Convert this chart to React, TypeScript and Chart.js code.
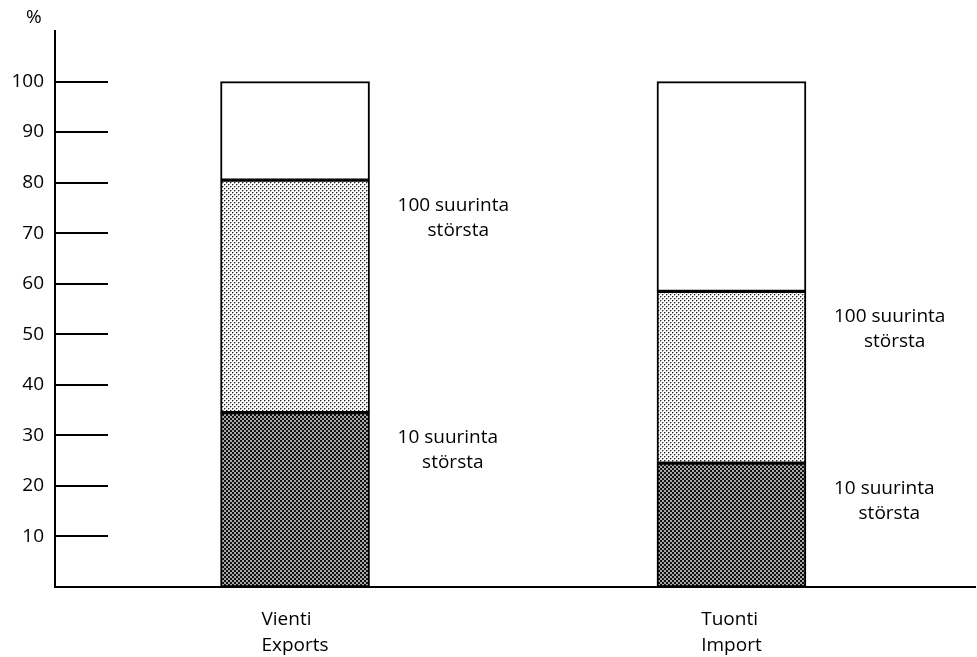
import { useEffect, useRef } from 'react';
import { Chart, registerables } from 'chart.js';

Chart.register(...registerables);

// ---- data ----
const categoriesFi = ['Vienti', 'Tuonti'];
const categoriesEn = ['Exports', 'Import'];
const top10Share = [34.5, 24.5];      // 10 largest companies
const next90Share = [46, 34];         // companies 11-100
const restShare = [19.5, 41.5];       // all others
const yTickValues = [10, 20, 30, 40, 50, 60, 70, 80, 90, 100];
const top10Label = ['10 suurinta', 'största'];
const top100Label = ['100 suurinta', 'största'];
const unitLabel = '%';

const FONT = '"Open Sans", "Noto Sans", sans-serif';
const FONT_SIZE = 19;
const FONT_WEIGHT = 500;

function makePattern(kind: 'light' | 'dark'): CanvasPattern | string {
  const c = document.createElement('canvas');
  c.width = 4;
  c.height = 4;
  const g = c.getContext('2d');
  if (!g) return '#aaa';
  if (kind === 'dark') {
    g.fillStyle = '#a8a8a8';
    g.fillRect(0, 0, 4, 4);
    g.fillStyle = '#111111';
    g.fillRect(0, 0, 2, 2);
    g.fillRect(2, 2, 2, 2);
  } else {
    g.fillStyle = '#ffffff';
    g.fillRect(0, 0, 4, 4);
    g.fillStyle = '#aaaaaa';
    g.fillRect(1, 0, 1, 1);
    g.fillRect(0, 1, 1, 1);
    g.fillRect(3, 2, 1, 1);
    g.fillRect(2, 3, 1, 1);
    g.fillStyle = '#222222';
    g.fillRect(0, 0, 1, 1);
    g.fillRect(2, 2, 1, 1);
  }
  return g.createPattern(c, 'repeat') || '#aaa';
}

export default function App() {
  const ref = useRef<HTMLCanvasElement | null>(null);

  useEffect(() => {
    if (!ref.current) return;
    const darkPat = makePattern('dark');
    const lightPat = makePattern('light');

    const decorations = {
      id: 'decorations',
      afterDatasetsDraw(chart: any) {
        const ctx = chart.ctx as CanvasRenderingContext2D;
        const y = chart.scales.y;
        const area = chart.chartArea;
        ctx.save();
        // long tick marks inside the plot
        ctx.strokeStyle = '#000';
        ctx.lineWidth = 2;
        yTickValues.forEach((v) => {
          const py = Math.round(y.getPixelForValue(v));
          ctx.beginPath();
          ctx.moveTo(area.left, py);
          ctx.lineTo(area.left + 53, py);
          ctx.stroke();
        });
        // unit label
        ctx.fillStyle = '#000';
        ctx.font = `${FONT_WEIGHT} ${FONT_SIZE}px ${FONT}`;
        ctx.textAlign = 'left';
        ctx.textBaseline = 'middle';
        ctx.fillText(unitLabel, 26, 18);

        // segment labels
        const meta0 = chart.getDatasetMeta(0);
        categoriesFi.forEach((_, i) => {
          const el: any = meta0.data[i];
          const xLeft = el.x + el.width / 2 + 28;
          const put = (lines: string[], topValue: number) => {
            const w0 = ctx.measureText(lines[0]).width;
            const cx = xLeft + w0 / 2 + 5;
            const py = y.getPixelForValue(topValue - 5);
            ctx.textAlign = 'left';
            ctx.fillText(lines[0], xLeft, py);
            ctx.textAlign = 'center';
            ctx.fillText(lines[1], cx, py + 25);
          };
          put(top100Label, top10Share[i] + next90Share[i]);
          put(top10Label, top10Share[i]);

          // category labels under the axis
          const wa = ctx.measureText(categoriesFi[i]).width;
          const wb = ctx.measureText(categoriesEn[i]).width;
          const lx = el.x - Math.max(wa, wb) / 2;
          ctx.textAlign = 'left';
          ctx.fillText(categoriesFi[i], lx, area.bottom + 33);
          ctx.fillText(categoriesEn[i], lx, area.bottom + 59);
        });
        ctx.restore();
      },
    };

    const toPoints = (arr: number[]) => arr.map((v, i) => ({ x: i, y: v }));
    const common = {
      borderColor: '#000',
      borderWidth: 2,
      borderSkipped: false as const,
      barThickness: 149,
    };

    const chart = new Chart(ref.current, {
      type: 'bar',
      data: {
        datasets: [
          { label: top10Label[0], data: toPoints(top10Share), backgroundColor: darkPat as any, ...common },
          { label: top100Label[0], data: toPoints(next90Share), backgroundColor: lightPat as any, ...common },
          { label: 'muut', data: toPoints(restShare), backgroundColor: '#ffffff', ...common },
        ],
      },
      options: {
        animation: false,
        responsive: false,
        layout: { padding: { top: 31, bottom: 70, left: 0, right: 2 } },
        plugins: { legend: { display: false }, tooltip: { enabled: false } },
        scales: {
          x: {
            type: 'linear',
            stacked: true,
            offset: false,
            min: -0.55,
            max: 1.558,
            ticks: { display: false },
            grid: { display: false },
            border: { display: true, color: '#000', width: 2 },
            afterFit: (s: any) => { s.height = 0; },
          },
          y: {
            stacked: true,
            min: 0,
            max: 110,
            ticks: {
              stepSize: 10,
              padding: 3,
              color: '#000',
              font: { family: FONT, size: FONT_SIZE, weight: FONT_WEIGHT },
              callback: (v: any) => (yTickValues.includes(Number(v)) ? String(v) : ''),
            },
            grid: { display: false },
            border: { display: true, color: '#000', width: 2 },
            afterFit: (s: any) => { s.width = 55; },
          },
        },
      },
      plugins: [decorations],
    });
    return () => chart.destroy();
  }, []);

  return (
    <div style={{ position: 'absolute', left: 0, top: 0, width: 977, height: 657, background: '#fff' }}>
      <canvas ref={ref} width={977} height={657} style={{ display: 'block' }} />
    </div>
  );
}
